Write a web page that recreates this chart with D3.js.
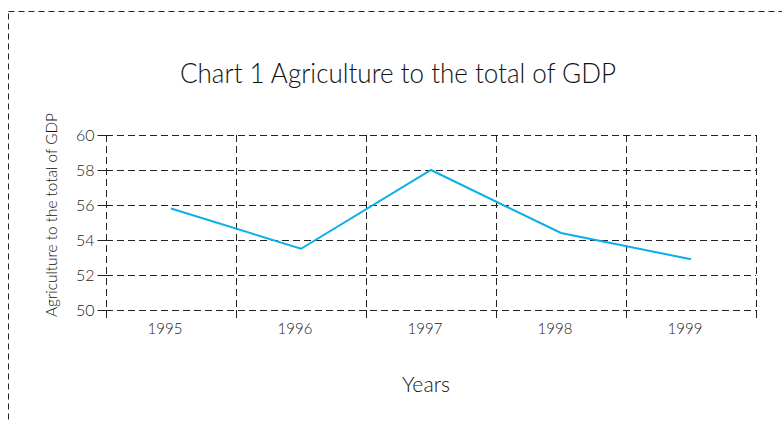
<!DOCTYPE html>
<html>
<head>
<meta charset="utf-8">
<script src="https://cdn.jsdelivr.net/npm/d3@7"></script>
<style>
  html, body { margin: 0; padding: 0; background: #fff; }
  svg { display: block; font-family: Lato, "Open Sans", sans-serif; }
</style>
</head>
<body>
<svg id="chart" width="782" height="422"></svg>
<script>
// Share of agriculture in total GDP, by year
const years = ["1995", "1996", "1997", "1998", "1999"];
const agricultureShare = [55.8, 53.5, 58.0, 54.4, 52.9];
const yTicks = [50, 52, 54, 56, 58, 60];

const titleText = "Chart 1 Agriculture to the total of GDP";
const xTitle = "Years";
const yTitle = "Agriculture to the total of GDP";

const W = 782, H = 422;
const margin = { left: 106, right: 26, top: 135, bottom: 112 };
const plotW = W - margin.left - margin.right;
const plotH = H - margin.top - margin.bottom;

const svg = d3.select("#chart");

// outer dashed frame
svg.append("rect")
  .attr("x", 8.5).attr("y", 11.5)
  .attr("width", W + 10).attr("height", H + 10)
  .attr("fill", "none")
  .attr("stroke", "#222")
  .attr("stroke-dasharray", "6,4");

const x = d3.scaleBand().domain(years).range([margin.left, margin.left + plotW]).padding(0);
const y = d3.scaleLinear().domain([50, 60]).range([margin.top + plotH, margin.top]);

const g = svg.append("g");

// horizontal dashed grid
g.append("g")
  .selectAll("line")
  .data(yTicks)
  .join("line")
  .attr("x1", margin.left).attr("x2", margin.left + plotW)
  .attr("y1", d => Math.round(y(d)) + 0.5).attr("y2", d => Math.round(y(d)) + 0.5)
  .attr("stroke", "#222")
  .attr("stroke-dasharray", "7,4");

// vertical dashed grid at category boundaries
const bounds = years.map(d => x(d)).concat([x.range()[1]]);
g.append("g")
  .selectAll("line")
  .data(bounds)
  .join("line")
  .attr("x1", d => Math.round(d) + 0.5).attr("x2", d => Math.round(d) + 0.5)
  .attr("y1", margin.top).attr("y2", margin.top + plotH)
  .attr("stroke", "#222")
  .attr("stroke-dasharray", "7,4");

// x tick marks below the plot
g.append("g")
  .selectAll("line")
  .data(bounds)
  .join("line")
  .attr("x1", d => Math.round(d) + 0.5).attr("x2", d => Math.round(d) + 0.5)
  .attr("y1", margin.top + plotH).attr("y2", margin.top + plotH + 8)
  .attr("stroke", "#222");

// y axis ticks and labels
const yAxis = d3.axisLeft(y).tickValues(yTicks).tickSize(9).tickPadding(3).tickFormat(d3.format("d"));
const ya = g.append("g").attr("transform", `translate(${margin.left + 0.5},0)`).call(yAxis);
ya.select(".domain").remove();
ya.selectAll(".tick line").attr("stroke", "#222");
ya.selectAll(".tick text")
  .attr("font-family", "Lato, sans-serif")
  .attr("font-size", 16)
  .attr("font-weight", 300)
  .attr("fill", "#222");

// x category labels
g.append("g")
  .selectAll("text")
  .data(years)
  .join("text")
  .attr("x", d => x(d) + x.bandwidth() / 2 - 6)
  .attr("y", margin.top + plotH + 24)
  .attr("text-anchor", "middle")
  .attr("font-size", 15)
  .attr("font-weight", 300)
  .attr("fill", "#222")
  .text(d => d);

// data line
const line = d3.line()
  .x((d, i) => x(years[i]) + x.bandwidth() / 2)
  .y(d => y(d));

g.append("path")
  .datum(agricultureShare)
  .attr("d", line)
  .attr("fill", "none")
  .attr("stroke", "#0aaee8")
  .attr("stroke-width", 2);

// titles
svg.append("text")
  .attr("x", 398).attr("y", 83)
  .attr("text-anchor", "middle")
  .attr("font-size", 27)
  .attr("font-weight", 300)
  .attr("fill", "#111")
  .attr("textLength", 436)
  .attr("lengthAdjust", "spacingAndGlyphs")
  .text(titleText);

svg.append("text")
  .attr("x", 426).attr("y", 392)
  .attr("text-anchor", "middle")
  .attr("font-size", 21)
  .attr("font-weight", 300)
  .attr("fill", "#111")
  .attr("textLength", 48)
  .attr("lengthAdjust", "spacingAndGlyphs")
  .text(xTitle);

svg.append("text")
  .attr("transform", "translate(57,215) rotate(-90)")
  .attr("text-anchor", "middle")
  .attr("font-size", 15)
  .attr("font-weight", 300)
  .attr("fill", "#111")
  .attr("textLength", 204)
  .attr("lengthAdjust", "spacingAndGlyphs")
  .text(yTitle);
</script>
</body>
</html>
